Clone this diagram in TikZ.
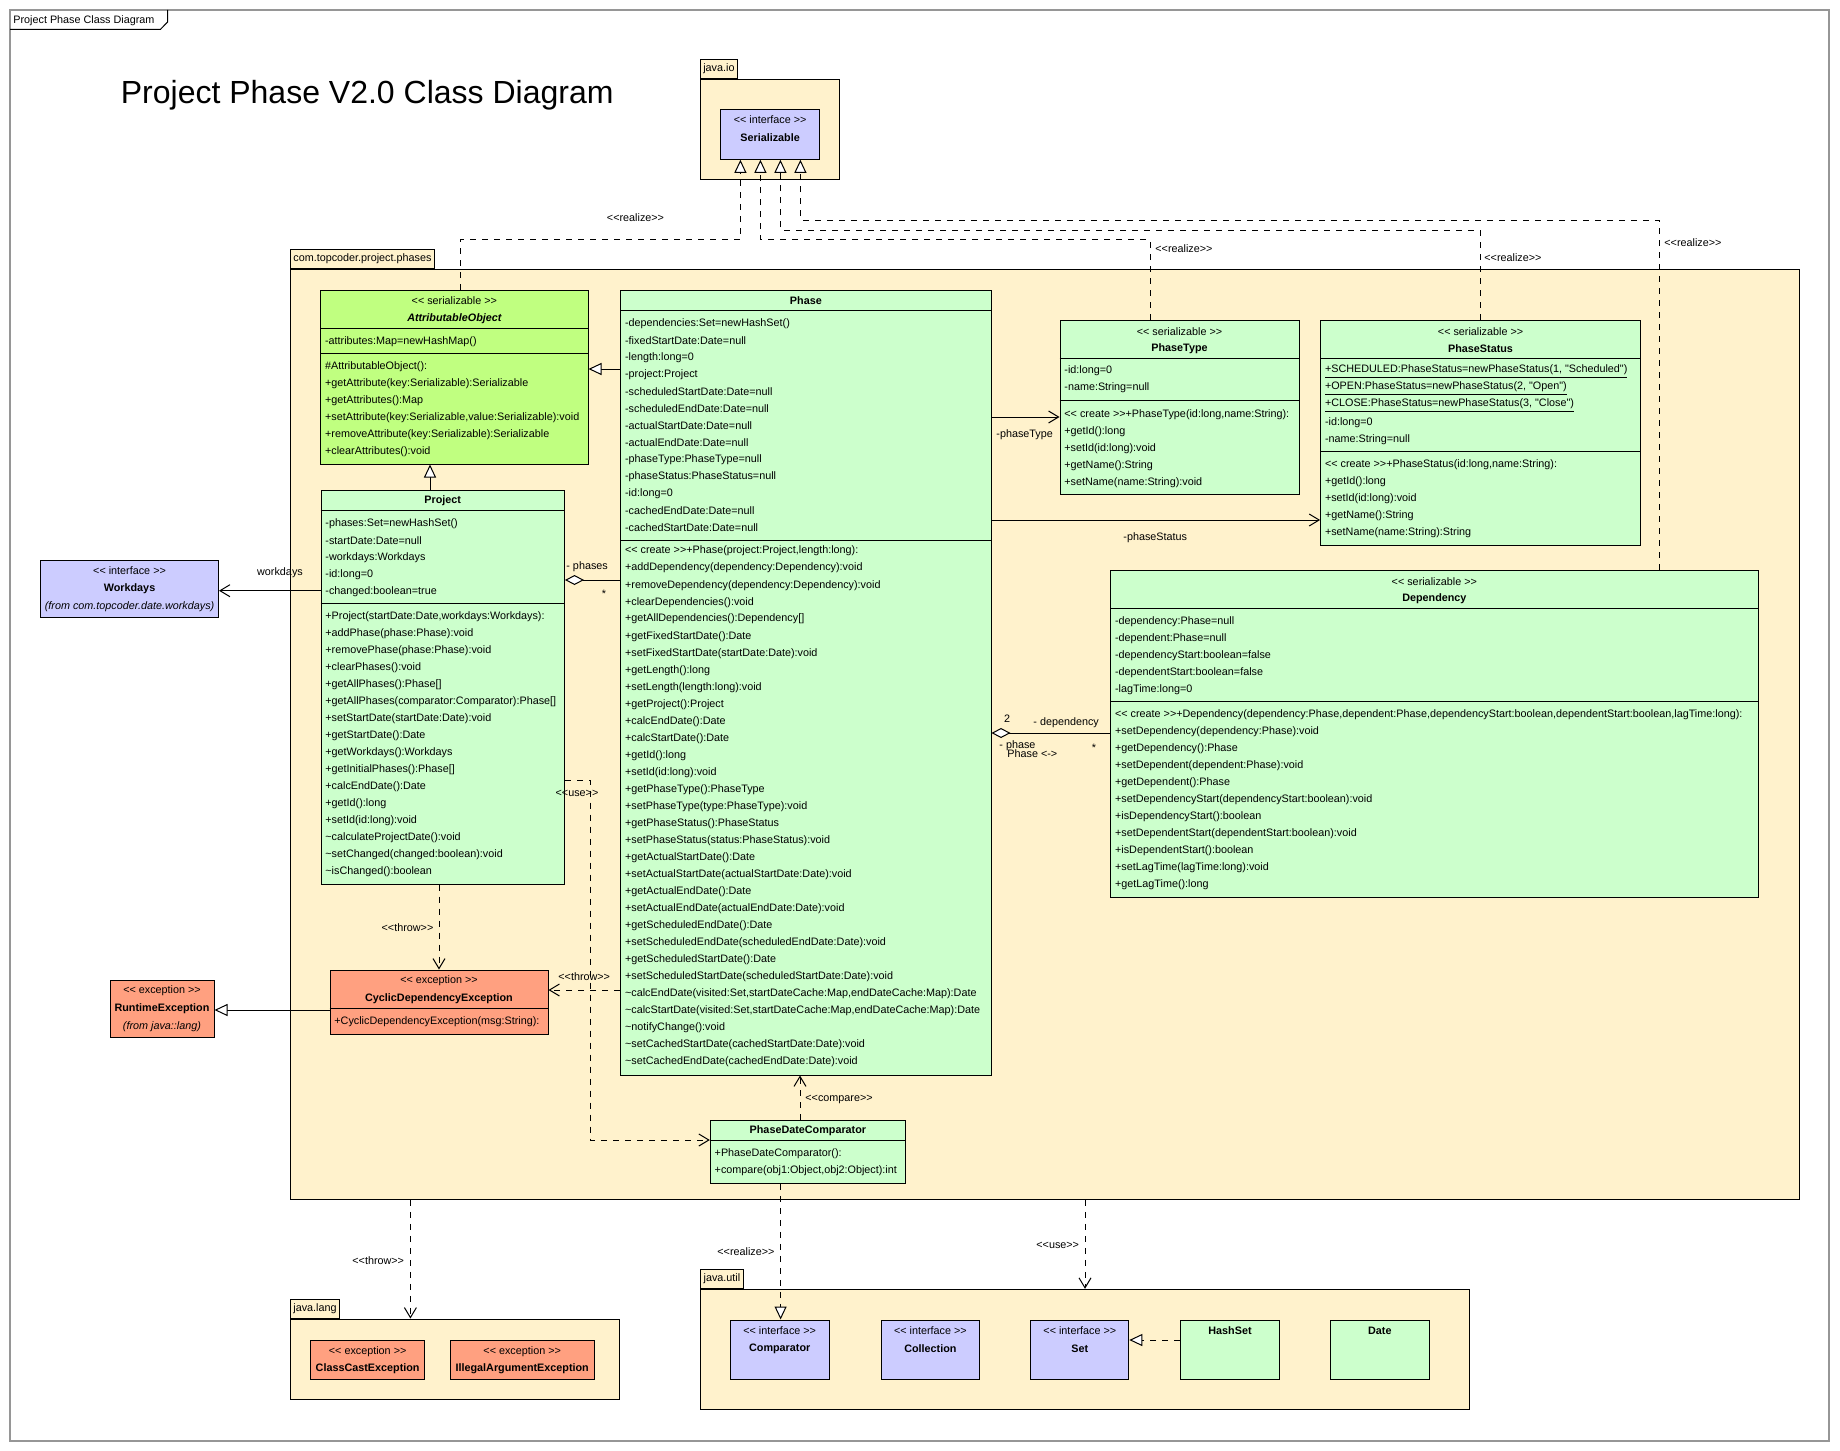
\documentclass[tikz,border=0pt]{standalone}
\usepackage{fontspec}
\newfontfamily\umlfont{Liberation Sans}
\usetikzlibrary{arrows.meta,calc,fit}
\definecolor{pkgfill}{RGB}{255,242,204}
\definecolor{clsfill}{RGB}{204,255,204}
\definecolor{absfill}{RGB}{192,255,128}
\definecolor{ifcfill}{RGB}{204,204,255}
\definecolor{excfill}{RGB}{255,160,128}
\definecolor{framegray}{RGB}{150,150,150}
\newcommand\umltxt{\umlfont\fontsize{5.4}{6.5}\selectfont}
\tikzset{
  pkgbody/.style={draw=black, fill=pkgfill, line width=0.5pt, inner sep=0pt},
  pkgtab/.style={draw=black, fill=pkgfill, line width=0.5pt, anchor=south west,
                 inner xsep=1.5pt, inner ysep=0pt, minimum height=9.5pt, font=\umltxt},
  clsbox/.style={draw=black, fill=clsfill, line width=0.5pt, inner sep=0pt},
  absbox/.style={clsbox, fill=absfill},
  ifcbox/.style={clsbox, fill=ifcfill},
  excbox/.style={clsbox, fill=excfill},
  sepline/.style={draw=black, line width=0.5pt},
  rowtxt/.style={anchor=west, inner sep=0pt, font=\umltxt},
  midtxt/.style={inner sep=0pt, font=\umltxt},
  boldtxt/.style={inner sep=0pt, font=\umltxt\bfseries},
  assoc/.style={draw=black, line width=0.5pt, -{Straight Barb[length=5pt,width=6pt]}},
  depline/.style={assoc, dash pattern=on 3pt off 3pt},
  genline/.style={draw=black, line width=0.5pt, -{Triangle[length=6.5pt,width=6pt,fill=white]}},
  realline/.style={genline, dash pattern=on 3pt off 3pt},
  aggline/.style={draw=black, line width=0.5pt, {Diamond[length=9.5pt,width=5pt,fill=white]}-},
}

\begin{document}
\begin{tikzpicture}[x=0.5pt,y=-0.5pt]
\useasboundingbox (0,0) rectangle (1840,1450);
\fill[white] (0,0) rectangle (1840,1450);
\draw[framegray, line width=0.6pt] (10,10) rectangle (1829,1441);
\draw[black, line width=0.5pt] (10,29.3) -- (160.5,29.3) -- (167.6,22) -- (167.6,10);
\node[rowtxt] (frametitle) at (13,20.5) {Project Phase Class Diagram};
\node[anchor=west, inner sep=0pt, font=\umlfont\fontsize{16}{19}\selectfont] (title) at (120.5,95)
  {Project Phase V2.0 Class Diagram};

\node[pkgbody, fit={(700.3,79.3) (839.3,179.3)}] (jio) {};
\node[pkgtab] (jiotab) at (jio.north west) {java.io};
\node[pkgbody, fit={(290.4,269.3) (1799,1199.3)}] (pkg) {};
\node[pkgtab] (phtab) at (pkg.north west) {com.topcoder.project.phases};
\node[pkgbody, fit={(290.4,1319) (619,1399.3)}] (jlang) {};
\node[pkgtab] (jlangtab) at (jlang.north west) {java.lang};
\node[pkgbody, fit={(700.6,1289.3) (1469,1409.3)}] (jutil) {};
\node[pkgtab] (jutiltab) at (jutil.north west) {java.util};

\node[ifcbox, fit={(720.4,109.3) (819.8,159.3)}] (ser) {};
\node[midtxt] at ($(ser.north)+(0,10.7)$) {<< interface >>};
\node[boldtxt] at ($(ser.north)+(0,28.7)$) {Serializable};

\node[absbox, fit={(320.7,290) (588,464)}] (ao) {};
\draw[sepline] ($(ao.north west)+(0,39)$) -- ($(ao.north east)+(0,39)$);
\draw[sepline] ($(ao.north west)+(0,64)$) -- ($(ao.north east)+(0,64)$);
\node[midtxt] at ($(ao.north)+(0,11)$) {<< serializable >>};
\node[boldtxt, font=\umltxt\bfseries\itshape] at ($(ao.north)+(0,29)$) {AttributableObject};
\node[rowtxt] at ($(ao.north west)+(4.5,52)$) {-attributes:Map=newHashMap()};
\foreach \t [count=\i from 0] in {\#AttributableObject():,
    +getAttribute(key:Serializable):Serializable, +getAttributes():Map,
    {+setAttribute(key:Serializable,value:Serializable):void},
    +removeAttribute(key:Serializable):Serializable, +clearAttributes():void}
  \node[rowtxt] at ($(ao.north west)+(4.5,77+\i*17)$) {\t};

\node[clsbox, fit={(321,490) (564.5,884)}] (proj) {};
\draw[sepline] ($(proj.north west)+(0,21)$) -- ($(proj.north east)+(0,21)$);
\draw[sepline] ($(proj.north west)+(0,114)$) -- ($(proj.north east)+(0,114)$);
\node[boldtxt] at ($(proj.north)+(0,11)$) {Project};
\foreach \t [count=\i from 0] in {-phases:Set=newHashSet(), -startDate:Date=null,
    -workdays:Workdays, -id:long=0, -changed:boolean=true}
  \node[rowtxt] at ($(proj.north west)+(4.5,34+\i*17)$) {\t};
\foreach \t [count=\i from 0] in {{+Project(startDate:Date,workdays:Workdays):},
    +addPhase(phase:Phase):void, +removePhase(phase:Phase):void, +clearPhases():void,
    +getAllPhases():Phase[], +getAllPhases(comparator:Comparator):Phase[],
    +setStartDate(startDate:Date):void, +getStartDate():Date, +getWorkdays():Workdays,
    +getInitialPhases():Phase[], +calcEndDate():Date, +getId():long, +setId(id:long):void,
    \textasciitilde calculateProjectDate():void, \textasciitilde setChanged(changed:boolean):void,
    \textasciitilde isChanged():boolean}
  \node[rowtxt] at ($(proj.north west)+(4.5,127+\i*17)$) {\t};

\node[clsbox, fit={(620.7,290) (991,1075)}] (phase) {};
\draw[sepline] ($(phase.north west)+(0,21)$) -- ($(phase.north east)+(0,21)$);
\draw[sepline] ($(phase.north west)+(0,250.7)$) -- ($(phase.north east)+(0,250.7)$);
\node[boldtxt] at ($(phase.north)+(0,10.7)$) {Phase};
\foreach \t [count=\i from 0] in {-dependencies:Set=newHashSet(), -fixedStartDate:Date=null,
    -length:long=0, -project:Project, -scheduledStartDate:Date=null,
    -scheduledEndDate:Date=null, -actualStartDate:Date=null, -actualEndDate:Date=null,
    -phaseType:PhaseType=null, -phaseStatus:PhaseStatus=null, -id:long=0,
    -cachedEndDate:Date=null, -cachedStartDate:Date=null}
  \node[rowtxt] at ($(phase.north west)+(4.5,34.3+\i*17)$) {\t};
\foreach \t [count=\i from 0] in {{<< create >>+Phase(project:Project,length:long):},
    +addDependency(dependency:Dependency):void, +removeDependency(dependency:Dependency):void,
    +clearDependencies():void, +getAllDependencies():Dependency[], +getFixedStartDate():Date,
    +setFixedStartDate(startDate:Date):void, +getLength():long, +setLength(length:long):void,
    +getProject():Project, +calcEndDate():Date, +calcStartDate():Date, +getId():long,
    +setId(id:long):void, +getPhaseType():PhaseType, +setPhaseType(type:PhaseType):void,
    +getPhaseStatus():PhaseStatus, +setPhaseStatus(status:PhaseStatus):void,
    +getActualStartDate():Date, +setActualStartDate(actualStartDate:Date):void,
    +getActualEndDate():Date, +setActualEndDate(actualEndDate:Date):void,
    +getScheduledEndDate():Date, +setScheduledEndDate(scheduledEndDate:Date):void,
    +getScheduledStartDate():Date, +setScheduledStartDate(scheduledStartDate:Date):void,
    {\textasciitilde calcEndDate(visited:Set,startDateCache:Map,endDateCache:Map):Date},
    {\textasciitilde calcStartDate(visited:Set,startDateCache:Map,endDateCache:Map):Date},
    \textasciitilde notifyChange():void,
    \textasciitilde setCachedStartDate(cachedStartDate:Date):void,
    \textasciitilde setCachedEndDate(cachedEndDate:Date):void}
  \node[rowtxt] at ($(phase.north west)+(4.5,261.7+\i*17)$) {\t};

\node[clsbox, fit={(1060,320) (1299,494)}] (ptype) {};
\draw[sepline] ($(ptype.north west)+(0,39)$) -- ($(ptype.north east)+(0,39)$);
\draw[sepline] ($(ptype.north west)+(0,81)$) -- ($(ptype.north east)+(0,81)$);
\node[midtxt] at ($(ptype.north)+(0,12)$) {<< serializable >>};
\node[boldtxt] at ($(ptype.north)+(0,29)$) {PhaseType};
\foreach \t [count=\i from 0] in {-id:long=0, -name:String=null}
  \node[rowtxt] at ($(ptype.north west)+(4.5,51+\i*17)$) {\t};
\foreach \t [count=\i from 0] in {{<< create >>+PhaseType(id:long,name:String):},
    +getId():long, +setId(id:long):void, +getName():String, +setName(name:String):void}
  \node[rowtxt] at ($(ptype.north west)+(4.5,95+\i*17)$) {\t};

\node[clsbox, fit={(1320.6,320) (1640.5,545.5)}] (pstat) {};
\draw[sepline] ($(pstat.north west)+(0,39)$) -- ($(pstat.north east)+(0,39)$);
\draw[sepline] ($(pstat.north west)+(0,132)$) -- ($(pstat.north east)+(0,132)$);
\node[midtxt] at ($(pstat.north)+(0,12)$) {<< serializable >>};
\node[boldtxt] at ($(pstat.north)+(0,29)$) {PhaseStatus};
\foreach \t [count=\i from 0] in {{\underline{+SCHEDULED:PhaseStatus=newPhaseStatus(1, "Scheduled")}},
    {\underline{+OPEN:PhaseStatus=newPhaseStatus(2, "Open")}},
    {\underline{+CLOSE:PhaseStatus=newPhaseStatus(3, "Close")}},
    -id:long=0, -name:String=null}
  \node[rowtxt] at ($(pstat.north west)+(4.5,52+\i*17)$) {\t};
\foreach \t [count=\i from 0] in {{<< create >>+PhaseStatus(id:long,name:String):},
    +getId():long, +setId(id:long):void, +getName():String, +setName(name:String):String}
  \node[rowtxt] at ($(pstat.north west)+(4.5,145+\i*17)$) {\t};

\node[clsbox, fit={(1110.7,570) (1758,897)}] (dep) {};
\draw[sepline] ($(dep.north west)+(0,39)$) -- ($(dep.north east)+(0,39)$);
\draw[sepline] ($(dep.north west)+(0,132)$) -- ($(dep.north east)+(0,132)$);
\node[midtxt] at ($(dep.north)+(0,12)$) {<< serializable >>};
\node[boldtxt] at ($(dep.north)+(0,29)$) {Dependency};
\foreach \t [count=\i from 0] in {-dependency:Phase=null, -dependent:Phase=null,
    -dependencyStart:boolean=false, -dependentStart:boolean=false, -lagTime:long=0}
  \node[rowtxt] at ($(dep.north west)+(4.5,52+\i*17)$) {\t};
\foreach \t [count=\i from 0] in {{<< create >>+Dependency(dependency:Phase,dependent:Phase,dependencyStart:boolean,dependentStart:boolean,lagTime:long):},
    +setDependency(dependency:Phase):void, +getDependency():Phase,
    +setDependent(dependent:Phase):void, +getDependent():Phase,
    +setDependencyStart(dependencyStart:boolean):void, +isDependencyStart():boolean,
    +setDependentStart(dependentStart:boolean):void, +isDependentStart():boolean,
    +setLagTime(lagTime:long):void, +getLagTime():long}
  \node[rowtxt] at ($(dep.north west)+(4.5,145+\i*17)$) {\t};

\node[clsbox, fit={(710.3,1120.3) (905.5,1183.3)}] (pdc) {};
\draw[sepline] ($(pdc.north west)+(0,20.7)$) -- ($(pdc.north east)+(0,20.7)$);
\node[boldtxt] at ($(pdc.north)+(0,10.7)$) {PhaseDateComparator};
\node[rowtxt] at ($(pdc.north west)+(4.5,34)$) {+PhaseDateComparator():};
\node[rowtxt] at ($(pdc.north west)+(4.5,51)$) {+compare(obj1:Object,obj2:Object):int};

\node[excbox, fit={(330,970) (548,1034)}] (cde) {};
\draw[sepline] ($(cde.north west)+(0,39)$) -- ($(cde.north east)+(0,39)$);
\node[midtxt] at ($(cde.north)+(0,11)$) {<< exception >>};
\node[boldtxt] at ($(cde.north)+(0,29)$) {CyclicDependencyException};
\node[rowtxt] at ($(cde.north west)+(4.5,52)$) {+CyclicDependencyException(msg:String):};

\node[ifcbox, fit={(40.6,560.7) (218.5,617)}] (wd) {};
\node[midtxt] at ($(wd.north)+(0,10.3)$) {<< interface >>};
\node[boldtxt] at ($(wd.north)+(0,28.3)$) {Workdays};
\node[midtxt, font=\umltxt\itshape] at ($(wd.north)+(0,46.3)$) {(from com.topcoder.date.workdays)};

\node[excbox, fit={(110,980) (214,1037)}] (rte) {};
\node[midtxt] at ($(rte.north)+(0,11)$) {<< exception >>};
\node[boldtxt] at ($(rte.north)+(0,29)$) {RuntimeException};
\node[midtxt, font=\umltxt\itshape] at ($(rte.north)+(0,47)$) {(from java::lang)};

\node[excbox, fit={(310.8,1340.3) (424.5,1379.3)}] (cce) {};
\node[midtxt] at ($(cce.north)+(0,11.4)$) {<< exception >>};
\node[boldtxt] at ($(cce.north)+(0,29)$) {ClassCastException};
\node[excbox, fit={(450.4,1340.3) (594,1379.3)}] (iae) {};
\node[midtxt] at ($(iae.north)+(0,11.4)$) {<< exception >>};
\node[boldtxt] at ($(iae.north)+(0,29)$) {IllegalArgumentException};

\node[ifcbox, fit={(730.4,1320) (829,1379.3)}] (cmp) {};
\node[midtxt] at ($(cmp.north)+(0,11)$) {<< interface >>};
\node[boldtxt] at ($(cmp.north)+(0,29)$) {Comparator};
\node[ifcbox, fit={(881,1320) (979.8,1379.3)}] (coll) {};
\node[midtxt] at ($(coll.north)+(0,11)$) {<< interface >>};
\node[boldtxt] at ($(coll.north)+(0,29)$) {Collection};
\node[ifcbox, fit={(1030.8,1320) (1128.8,1379.3)}] (set) {};
\node[midtxt] at ($(set.north)+(0,11)$) {<< interface >>};
\node[boldtxt] at ($(set.north)+(0,29)$) {Set};
\node[clsbox, fit={(1180.6,1320) (1279.4,1379.3)}] (hset) {};
\node[boldtxt] at ($(hset.north)+(0,11)$) {HashSet};
\node[clsbox, fit={(1330.4,1320) (1429.2,1379.3)}] (date) {};
\node[boldtxt] at ($(date.north)+(0,11)$) {Date};

\draw[realline] (ao.north -| 460,0) |- (740.4,239.5) -- (ser.south -| 740.4,0);
\draw[realline] (ptype.north -| 1150,0) |- (760.4,239.5) -- (ser.south -| 760.4,0);
\draw[realline] (pstat.north -| 1480,0) |- (780.4,230) -- (ser.south -| 780.4,0);
\draw[realline] (dep.north -| 1659,0) |- (800.4,220) -- (ser.south -| 800.4,0);
\node[midtxt] (lreal1) at (635.5,218) {<<realize>>};
\node[rowtxt] (lreal2) at (1155,249) {<<realize>>};
\node[rowtxt] (lreal3) at (1484,258) {<<realize>>};
\node[rowtxt] (lreal4) at (1664,243) {<<realize>>};

\draw[genline] (proj.north -| 430,0) -- (ao.south -| 430,0);
\draw[genline] (phase.west |- 0,369) -- (ao.east |- 0,369);
\draw[genline] (cde.west |- 0,1010) -- (rte.east |- 0,1010);
\draw[realline] (hset.west |- 0,1340) -- (set.east |- 0,1340);
\draw[realline] (pdc.south -| 780.6,0) -- (cmp.north -| 780.6,0);
\node[rowtxt] (lreal5) at (717,1252) {<<realize>>};

\draw[assoc] (proj.west |- 0,590.7) -- (wd.east |- 0,590.7);
\node[midtxt] (lwd) at (280,573) {workdays};
\draw[assoc] (phase.east |- 0,417) -- (ptype.west |- 0,417);
\node[rowtxt] (lptype) at (996,435) {-phaseType};
\draw[assoc] (phase.east |- 0,520) -- (pstat.west |- 0,520);
\node[rowtxt] (lpstat) at (1123,537.5) {-phaseStatus};

\draw[aggline] (proj.east |- 0,580) -- (phase.west |- 0,580);
\node[rowtxt] (lphases) at (566,567) {- phases};
\node[midtxt] (lmany1) at (604,594) {*};
\draw[aggline] (phase.east |- 0,733) -- (dep.west |- 0,733);
\node[midtxt] (ltwo) at (1007,719) {2};
\node[rowtxt] (ldep) at (1033,723) {- dependency};
\node[rowtxt] (lphase) at (999,746) {- phase};
\node[rowtxt] (lphase2) at (1007,753.5) {Phase <->};
\node[midtxt] (lmany2) at (1094,747.5) {*};

\draw[depline] (proj.south -| 439,0) -- (cde.north -| 439,0);
\node[midtxt] (lthrow1) at (407.5,928) {<<throw>>};
\draw[depline] (phase.west |- 0,990) -- (cde.east |- 0,990);
\node[rowtxt] (lthrow2) at (558,977) {<<throw>>};
\draw[depline] (proj.east |- 0,780) -| (590.5,1140) -- (pdc.west |- 0,1140);
\node[midtxt] (luse1) at (577,793) {<<use>>};
\draw[depline] (pdc.north -| 800,0) -- (phase.south -| 800,0);
\node[rowtxt] (lcmp) at (805,1099) {<<compare>>};
\draw[depline] (pkg.south -| 410.4,0) -- (jlang.north -| 410.4,0);
\node[rowtxt] (lthrow3) at (352,1261) {<<throw>>};
\draw[depline] (pkg.south -| 1085,0) -- (jutil.north -| 1085,0);
\node[rowtxt] (luse2) at (1036,1245) {<<use>>};
\end{tikzpicture}
\end{document}
